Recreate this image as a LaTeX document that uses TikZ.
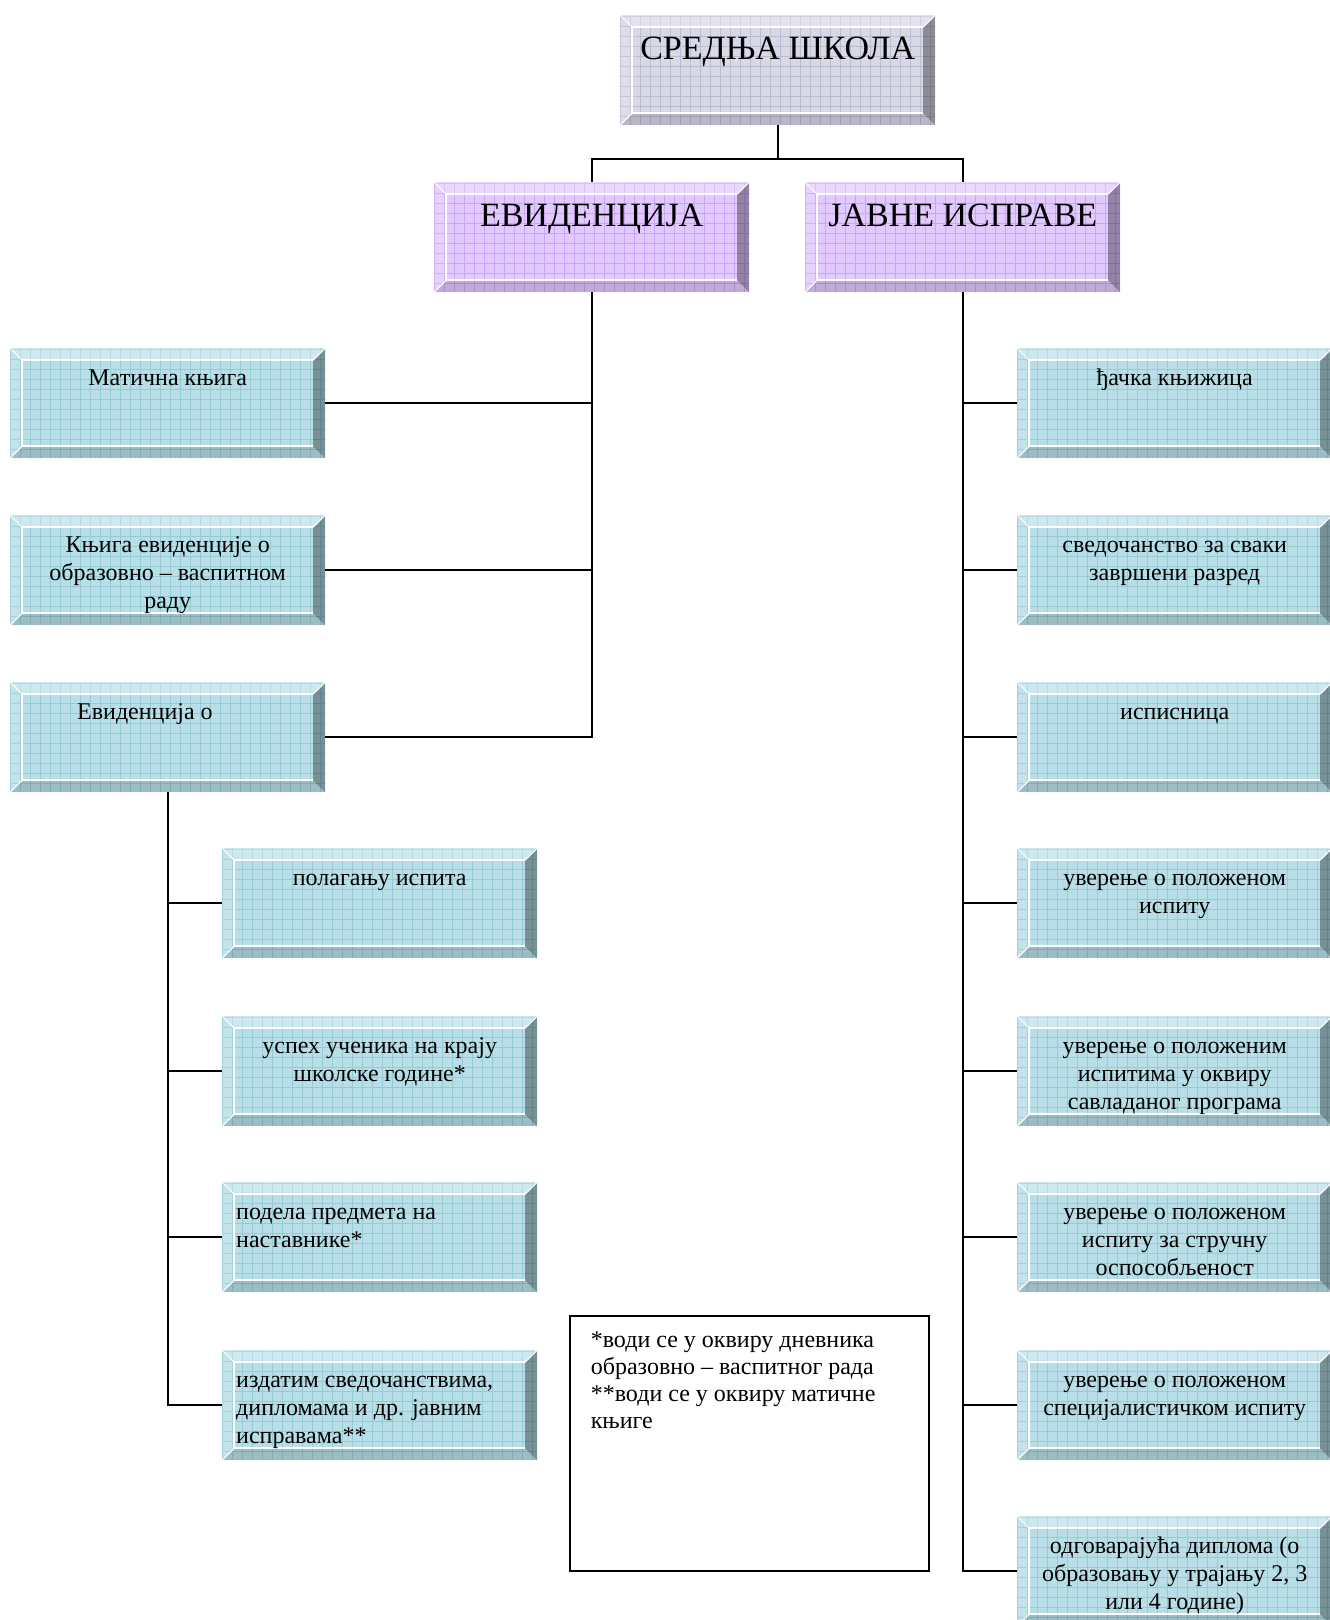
\documentclass[tikz,border=0pt]{standalone}
\usepackage{fontspec}
\setmainfont{Liberation Serif}
\usepackage{tikz}
\usetikzlibrary{calc, positioning}
\definecolor{Slate}    {HTML}{D8D8E6}
\definecolor{SlateGrid}{HTML}{BCBCD0}
\definecolor{Lilac}    {HTML}{E2C9FF}
\definecolor{LilacGrid}{HTML}{CBA6F4}
\definecolor{Aqua}     {HTML}{B8DFE7}
\definecolor{AquaGrid} {HTML}{96CAD5}
% text inside a bevelled box, hung from the top
\newcommand{\boxtext}[2][\centering]{%
  \parbox[c][110pt][t]{315pt}{#1\vspace*{17.4pt}\strut#2}}
\newcommand{\headtext}[1]{%
  \parbox[c][110pt][t]{315pt}{\centering\fontsize{34}{39}\selectfont
    \vspace*{16.5pt}\strut#1}}

\begin{document}
\begin{tikzpicture}[x=1pt, y=-1pt, font=\fontsize{24}{28}\selectfont,
  bevel/.style n args={2}{
    fill=#1, inner sep=0pt, minimum width=315pt, minimum height=110pt,
    anchor=north west,
    path picture={
      \draw[#2, line width=0.7pt, step=10pt]
        (path picture bounding box.south west) grid
        (path picture bounding box.north east);
      \coordinate (bnw) at (path picture bounding box.north west);
      \coordinate (bne) at (path picture bounding box.north east);
      \coordinate (bsw) at (path picture bounding box.south west);
      \coordinate (bse) at (path picture bounding box.south east);
      \fill[white, opacity=.3] (bnw) -- (bne) -- ($(bne)+(-12pt,-12pt)$)
        -- ($(bnw)+(12pt,-12pt)$) -- cycle;
      \fill[white, opacity=.15] (bnw) -- (bsw) -- ($(bsw)+(12pt,12pt)$)
        -- ($(bnw)+(12pt,-12pt)$) -- cycle;
      \fill[black, opacity=.35] (bne) -- (bse) -- ($(bse)+(-12pt,12pt)$)
        -- ($(bne)+(-12pt,-12pt)$) -- cycle;
      \fill[black, opacity=.15] (bsw) -- (bse) -- ($(bse)+(-12pt,12pt)$)
        -- ($(bsw)+(12pt,12pt)$) -- cycle;
      \draw[white, line width=1.6pt] ($(bse)+(-12pt,12pt)$)
        -- ($(bsw)+(12pt,12pt)$) -- ($(bnw)+(12pt,-12pt)$)
        -- ($(bne)+(-12pt,-12pt)$);
      \draw[white, line width=1pt] (bnw) -- ($(bnw)+(12pt,-12pt)$)
        (bsw) -- ($(bsw)+(12pt,12pt)$) (bne) -- ($(bne)+(-12pt,-12pt)$);
    }},
  headbox/.style={bevel={Slate}{SlateGrid}},
  groupbox/.style={bevel={Lilac}{LilacGrid}},
  itembox/.style={bevel={Aqua}{AquaGrid}},
  notebox/.style={draw, line width=1.6pt, inner sep=0pt, anchor=north west},
  conn/.style={line width=2pt, black}]
  \useasboundingbox (0,0) rectangle (1330,1620);

  % Top and the two groups
  \node[headbox]  (school) at (620,15)  {\headtext{СРЕДЊА ШКОЛА}};
  \node[groupbox] (evid)   at (434,182) {\headtext{ЕВИДЕНЦИЈА}};
  \node[groupbox] (docs)   at (805,182) {\headtext{ЈАВНЕ ИСПРАВЕ}};

  % Records, left column
  \node[itembox] (book)   at (10,348) {\boxtext{Матична књига}};
  \node[itembox] (record) at (10,515) {\boxtext{Књига евиденције о\\образовно – васпитном\\раду}};
  \node[itembox] (about)  at (10,682) {\boxtext[\raggedright\leftskip=67pt]{Евиденција о}};

  % Records, sub items
  \node[itembox] (exams)    at (222,848)  {\boxtext{полагању испита}};
  \node[itembox] (success)  at (222,1016) {\boxtext{успех ученика на крају\\школске године*}};
  \node[itembox] (subjects) at (222,1182) {\boxtext[\raggedright\leftskip=14pt]{подела предмета на\\наставнике*}};
  \node[itembox] (issued)   at (222,1350) {\boxtext[\raggedright\leftskip=14pt]{издатим сведочанствима,\\дипломама и др. јавним\\исправама**}};

  % Public documents, right column
  \node[itembox] (d1) at (1017,348)  {\boxtext{ђачка књижица}};
  \node[itembox] (d2) at (1017,515)  {\boxtext{сведочанство за сваки\\завршени разред}};
  \node[itembox] (d3) at (1017,682)  {\boxtext{исписница}};
  \node[itembox] (d4) at (1017,848)  {\boxtext{уверење о положеном\\испиту}};
  \node[itembox] (d5) at (1017,1016) {\boxtext{уверење о положеним\\испитима у оквиру\\савладаног програма}};
  \node[itembox] (d6) at (1017,1182) {\boxtext{уверење о положеном\\испиту за стручну\\оспособљеност}};
  \node[itembox] (d7) at (1017,1350) {\boxtext{уверење о положеном\\специјалистичком испиту}};
  \node[itembox] (d8) at (1017,1516) {\boxtext{одговарајућа диплома (о\\образовању у трајању 2, 3\\или 4 године)}};

  % Footnote box
  \node[notebox] (note) at (569,1315) {\parbox[c][255pt][t]{359pt}{%
    \fontsize{24}{27}\selectfont\raggedright\leftskip=21pt
    \vspace*{12.5pt}\strut*води се у оквиру дневника\\образовно – васпитног рада\\{}%
    **води се у оквиру матичне\\књиге}};

  % Connectors
  \draw[conn] (school.south) -- ++(0,34) -| (evid.north);
  \draw[conn] (school.south) -- ++(0,34) -| (docs.north);
  \foreach \nd in {book, record, about}
    \draw[conn] (evid.south) |- (\nd.east);
  \foreach \nd in {exams, success, subjects, issued}
    \draw[conn] (about.south) |- (\nd.west);
  \foreach \nd in {d1, d2, d3, d4, d5, d6, d7, d8}
    \draw[conn] (docs.south) |- (\nd.west);
\end{tikzpicture}
\end{document}
